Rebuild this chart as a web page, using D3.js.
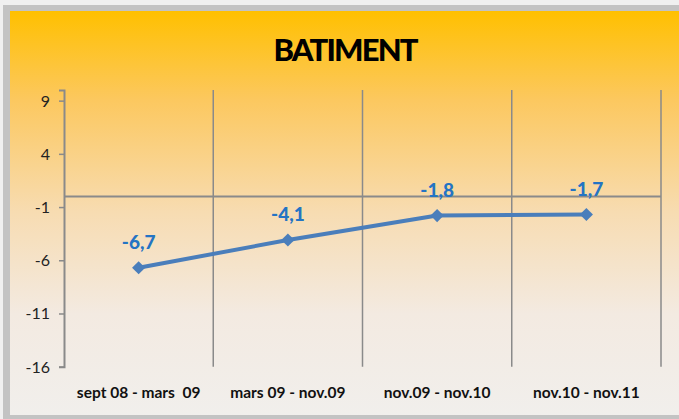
<!DOCTYPE html>
<html>
<head>
<meta charset="utf-8">
<script src="https://cdn.jsdelivr.net/npm/d3@7"></script>
<style>
  body { margin: 0; background: #f0f0f0; }
  text { font-family: Lato, "Open Sans", sans-serif; }
</style>
</head>
<body>
<div id="chart"></div>
<script>
const categories = ['sept 08 - mars  09', 'mars 09 - nov.09', 'nov.09 - nov.10', 'nov.10 - nov.11'];
const values = [-6.7, -4.1, -1.8, -1.7];
const yTicks = [-16, -11, -6, -1, 4, 9];
const title = 'BATIMENT';

function drawChart() {
    const width = 679, height = 419;
    const svg = d3.select('#chart').append('svg')
        .attr('width', width)
        .attr('height', height);

    const defs = svg.append('defs');
    const grad = defs.append('linearGradient')
        .attr('id', 'bg').attr('x1', 0).attr('y1', 0).attr('x2', 0).attr('y2', 1);
    [['0%', '#ffc000'], ['22%', '#fcc85f'], ['50%', '#f7dcb2'], ['75%', '#f3eae1'], ['100%', '#f1efec']]
        .forEach(s => grad.append('stop').attr('offset', s[0]).attr('stop-color', s[1]));

    // frame
    svg.append('rect').attr('x', 3).attr('y', 5).attr('width', width).attr('height', height - 5)
        .attr('fill', '#c3c3c3');
    svg.append('rect').attr('x', 10).attr('y', 11).attr('width', width).attr('height', 404)
        .attr('fill', 'url(#bg)');

    const x = d3.scaleBand().domain(categories).range([64, 661]);
    const y = d3.scaleLinear().domain([-16, 10]).range([366.7, 90]);

    // title
    svg.append('text')
        .attr('x', 346).attr('y', 61)
        .attr('text-anchor', 'middle')
        .style('font-size', '31px').style('font-weight', 900)
        .attr('fill', '#000')
        .attr('textLength', 145)
        .text(title);

    const gridColor = '#8a8a8a';

    // vertical category gridlines
    svg.append('g').selectAll('line')
        .data(categories)
        .join('line')
        .attr('x1', d => x(d) + x.bandwidth())
        .attr('x2', d => x(d) + x.bandwidth())
        .attr('y1', y(10)).attr('y2', y(-16))
        .attr('stroke', gridColor).attr('stroke-width', 1.5);

    // y axis (line + ticks from d3, labels drawn separately)
    const yAxis = d3.axisLeft(y).tickValues(yTicks).tickSize(5).tickFormat('');
    const gy = svg.append('g').attr('transform', 'translate(64,0)').call(yAxis);
    gy.select('.domain').attr('stroke', gridColor).attr('stroke-width', 2);
    gy.selectAll('.tick line').attr('stroke', gridColor).attr('stroke-width', 1.5);

    svg.append('g').selectAll('text')
        .data(yTicks)
        .join('text')
        .attr('x', 50)
        .attr('y', d => y(d) + 6)
        .attr('text-anchor', 'end')
        .style('font-size', '16px')
        .attr('fill', '#222')
        .text(d => d);

    // category axis at zero
    svg.append('line')
        .attr('x1', x.range()[0]).attr('x2', x.range()[1])
        .attr('y1', y(0)).attr('y2', y(0))
        .attr('stroke', gridColor).attr('stroke-width', 2);

    // category labels at bottom
    svg.append('g').selectAll('text')
        .data(categories)
        .join('text')
        .attr('x', d => x(d) + x.bandwidth() / 2)
        .attr('y', 398)
        .attr('text-anchor', 'middle')
        .style('font-size', '15.5px').style('font-weight', 'bold')
        .style('white-space', 'pre')
        .attr('fill', '#111')
        .text(d => d);

    const pts = categories.map((c, i) => ({ c, v: values[i] }));

    const line = d3.line()
        .x(d => x(d.c) + x.bandwidth() / 2)
        .y(d => y(d.v));

    svg.append('path')
        .datum(pts)
        .attr('d', line)
        .attr('fill', 'none')
        .attr('stroke', '#4a7ebb')
        .attr('stroke-width', 4)
        .attr('stroke-linejoin', 'round');

    svg.append('g').selectAll('path')
        .data(pts)
        .join('path')
        .attr('d', d3.symbol(d3.symbolDiamond2, 110))
        .attr('transform', d => `translate(${x(d.c) + x.bandwidth() / 2},${y(d.v)})`)
        .attr('fill', '#4a7ebb');

    svg.append('g').selectAll('text')
        .data(pts)
        .join('text')
        .attr('x', d => x(d.c) + x.bandwidth() / 2)
        .attr('y', d => y(d.v) - 19)
        .attr('text-anchor', 'middle')
        .style('font-size', '19px').style('font-weight', 900)
        .attr('fill', '#2474c4')
        .text(d => String(d.v).replace('.', ','));
}

drawChart();
</script>
</body>
</html>
